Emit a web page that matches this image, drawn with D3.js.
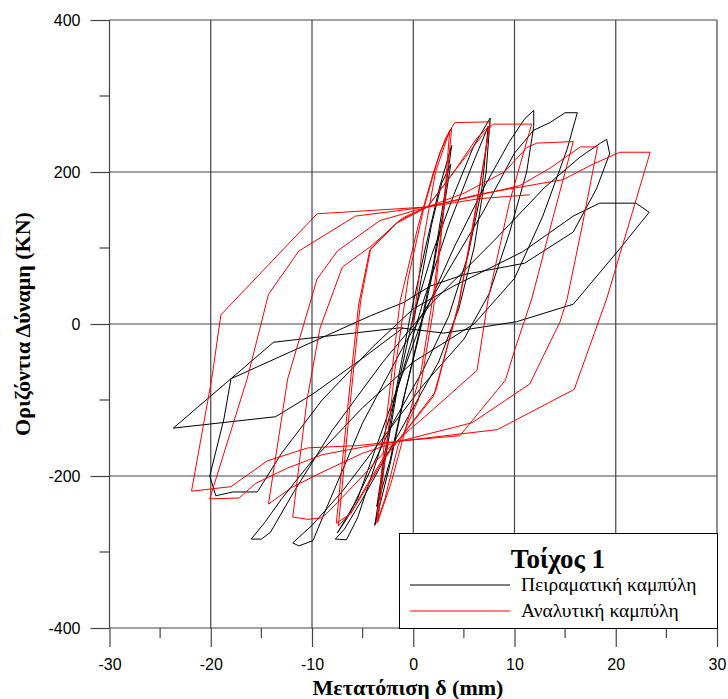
<!DOCTYPE html>
<html><head><meta charset="utf-8">
<script src="https://cdn.jsdelivr.net/npm/d3@7"></script>
<style>body{margin:0;background:#fff}svg{display:block}</style>
</head><body>
<svg id="chart" width="728" height="699"></svg>
<script>
const xTicks = [-30,-20,-10,0,10,20,30];
const xMinorTicks = [-25,-15,-5,5,15,25];
const yTicks = [-400,-200,0,200,400];
const yMinorTicks = [-300,-100,100,300];
const xTitle = "Μετατόπιση δ (mm)";
const yTitle = "Οριζόντια Δύναμη (KN)";
const legendTitle = "Τοίχος 1";
const seriesNames = ["Πειραματική καμπύλη","Αναλυτική καμπύλη"];
const seriesColors = ["#000000","#ff0000"];

// Experimental curve (black): displacement (mm), force (kN)
const experimental = [
[0,0],[0.8,60],[1.8,130],[2.8,185],[3.7,210],
[3.0,150],[1.8,60],[0.5,-20],[-1.0,-100],[-2.3,-180],[-3.6,-240],
[-2.8,-170],[-1.6,-80],[-0.3,10],[1.2,100],[2.6,180],[3.8,235],
[3.1,170],[2.0,80],[0.6,-10],[-0.8,-90],[-2.3,-185],[-3.8,-265],
[-2.8,-180],[-1.5,-80],[0.0,10],[1.8,90],[4.0,170],[6.0,235],[7.6,271],
[7.2,200],[6.0,100],[4.5,20],[2.5,-50],[0.0,-110],[-2.5,-170],[-5.0,-230],[-6.8,-270],[-7.7,-283],[-6.6,-284],
[-5.5,-255],[-3.5,-175],[-1.0,-60],[1.0,30],[3.5,130],[6.0,215],[7.4,260],
[6.8,180],[5.4,90],[3.5,10],[1.0,-60],[-2.0,-130],[-4.5,-200],[-6.5,-255],[-7.5,-275],
[-5.5,-230],[-2.0,-100],[1.0,10],[4.0,100],[7.0,180],[9.5,240],[11.0,270],[11.9,281],
[11.9,260],[11.2,200],[9.5,120],[7.5,40],[5.0,-20],[1.0,-80],[-3.0,-150],[-7.0,-220],[-10.0,-265],[-11.9,-288],[-11.3,-292],[-9.9,-285],
[-8.5,-240],[-5.0,-130],[-1.0,-30],[3.0,60],[7.0,150],[10.0,225],[11.9,255],[13.5,265],[15.0,278],[16.2,278],
[15.2,230],[12.8,142],[10.0,60],[6.0,0],[0.0,-50],[-5.0,-110],[-10.0,-180],[-13.0,-230],[-14.6,-260],[-16.0,-283],[-15.0,-283],[-14.1,-274],
[-11.8,-221],[-8.0,-140],[-3.0,-50],[2.0,30],[8.0,110],[13.0,180],[16.5,220],[18.5,238],[19.1,243],[19.4,224],
[18.1,178],[15.8,121],[11.0,80],[5.0,65],[1.7,50],[-1.0,28],[-4.2,11],[-18.0,-72],[-18.7,-125],[-20.1,-200],[-19.5,-226],[-17.8,-221],[-15.4,-221],
[-13.0,-170],[-9.0,-100],[-4.0,-30],[0.0,20],[4.0,50],[10.8,95],[15.8,142],[18.4,159],[22.0,159],[23.3,147],
[20.4,99],[15.8,26],[10.2,3],[3.0,-12],[-1.3,-5],[-13.8,-24],[-23.7,-137],[-13.6,-122],[-9.9,-92],[-5.0,-45],[-1.0,-5]
];

// Analytical curve (red): displacement (mm), force (kN)
const analytical = [
[0,0],[1.0,110],[2.2,200],[3.6,255],
[3.0,150],[2.0,40],[0.8,-60],[-0.8,-140],[-2.2,-210],[-3.5,-260],
[-2.8,-180],[-1.8,-60],[-0.5,60],[1.0,150],[2.6,225],[3.8,258],
[3.1,160],[2.0,20],[0.5,-100],[-1.5,-160],[-2.8,-230],[-3.6,-262],
[-2.6,-120],[-1.3,30],[0.5,130],[2.0,200],[3.2,245],[4.1,265],[7.6,266],
[6.2,150],[4.6,33],[2.2,-89],[-1.3,-150],[-2.9,-175],[-4.5,-210],[-6.0,-245],[-7.4,-266],
[-6.2,-100],[-5.2,30],[-4.2,99],[-1.5,135],[1.4,154],[4.0,200],[6.3,245],[7.6,262],
[6.0,140],[4.4,20],[2.0,-95],[-1.4,-152],[-3.0,-180],[-4.6,-215],[-6.2,-250],[-7.6,-262],
[-6.4,-100],[-5.4,25],[-4.3,97],[-1.6,133],[1.4,154],[4.3,205],[6.8,248],[7.9,263],[11.7,263],
[9.5,160],[7.4,33],[6.3,-61],[2.0,-112],[-1.3,-150],[-2.9,-169],[-5.0,-200],[-7.5,-235],[-9.0,-255],[-10.4,-257],[-11.9,-254],
[-10.5,-100],[-9.2,-5],[-7.0,75],[-4.2,102],[-1.0,140],[1.4,154],[5.0,172],[9.0,200],[11.2,232],[12.2,238],[15.8,240],
[13.8,140],[11.7,33],[10.0,-35],[9.1,-74],[4.6,-147],[-1.3,-154],[-5.0,-170],[-9.0,-195],[-12.0,-215],[-14.3,-237],
[-12.4,-72],[-9.5,59],[-7.5,96],[-3.3,136],[1.4,154],[6.0,168],[10.5,182],[13.5,205],[16.5,233],[18.2,233],
[16.7,130],[15.2,33],[14.5,3],[11.5,-79],[5.8,-130],[-1.3,-154],[-5.0,-162],[-9.0,-172],[-12.5,-190],[-15.6,-210],[-17.2,-229],[-20.1,-230],
[-16.4,-72],[-14.3,39],[-11.3,96],[-5.7,142],[1.4,154],[6.6,171],[10.5,180],[14.8,190],[17.7,210],[20.4,226],[23.4,226],
[19.1,33],[15.9,-86],[8.3,-139],[-1.3,-154],[-5.5,-160],[-10.4,-163],[-14.4,-180],[-18.0,-214],[-21.9,-220],
[-19.9,-72],[-19.0,12],[-9.5,145],[1.4,154],[6.6,165],[11.5,170]
];

const svg = d3.select("#chart");
const x = d3.scaleLinear().domain([-30,30]).range([109.5,717]);
const y = d3.scaleLinear().domain([-400,400]).range([628,20]);
const gridColor = "#444";
const sansFont = "'Liberation Sans', Arial, sans-serif";
const serifFont = "'Liberation Serif', 'Times New Roman', serif";

// grid lines
svg.append("g").selectAll("line").data(xTicks).join("line")
  .attr("x1",d=>x(d)).attr("x2",d=>x(d)).attr("y1",y(400)).attr("y2",y(-400))
  .attr("stroke",gridColor).attr("stroke-width",1.2);
svg.append("g").selectAll("line").data(yTicks).join("line")
  .attr("x1",x(-30)).attr("x2",x(30)).attr("y1",d=>y(d)).attr("y2",d=>y(d))
  .attr("stroke",gridColor).attr("stroke-width",1.2);

// axes
const xAxis = d3.axisBottom(x).tickValues(xTicks).tickSize(19).tickPadding(12).tickFormat(d=>String(d));
const gx = svg.append("g").attr("transform",`translate(0,${y(-400)})`).call(xAxis);
gx.select(".domain").remove();
gx.selectAll(".tick line").attr("stroke",gridColor).attr("stroke-width",1.2);
gx.selectAll("text").attr("font-family",sansFont).attr("font-size",16).attr("fill","#000");
svg.append("g").selectAll("line").data(xMinorTicks).join("line")
  .attr("x1",d=>x(d)).attr("x2",d=>x(d)).attr("y1",y(-400)).attr("y2",y(-400)+10)
  .attr("stroke",gridColor).attr("stroke-width",1.2);

const yAxis = d3.axisLeft(y).tickValues(yTicks).tickSize(19).tickPadding(10).tickFormat(d=>String(d));
const gy = svg.append("g").attr("transform",`translate(${x(-30)},0)`).call(yAxis);
gy.select(".domain").remove();
gy.selectAll(".tick line").attr("stroke",gridColor).attr("stroke-width",1.2);
gy.selectAll("text").attr("font-family",sansFont).attr("font-size",16).attr("fill","#000");
svg.append("g").selectAll("line").data(yMinorTicks).join("line")
  .attr("x1",x(-30)-10).attr("x2",x(-30)).attr("y1",d=>y(d)).attr("y2",d=>y(d))
  .attr("stroke",gridColor).attr("stroke-width",1.2);

// curves
const line = d3.line().x(d=>x(d[0])).y(d=>y(d[1]));
svg.append("path").datum(experimental).attr("d",line)
  .attr("fill","none").attr("stroke",seriesColors[0]).attr("stroke-width",1).attr("stroke-linejoin","round");
svg.append("path").datum(analytical).attr("d",line)
  .attr("fill","none").attr("stroke",seriesColors[1]).attr("stroke-width",1).attr("stroke-linejoin","round");

// axis titles
svg.append("text").attr("x",408).attr("y",695).attr("text-anchor","middle")
  .attr("font-family",serifFont).attr("font-weight","bold").attr("font-size",22)
  .text(xTitle);
svg.append("text").attr("transform","translate(30,324) rotate(-90)").attr("text-anchor","middle")
  .attr("font-family",serifFont).attr("font-weight","bold").attr("font-size",22)
  .text(yTitle);

// legend
const lg = svg.append("g");
lg.append("rect").attr("x",399.5).attr("y",533.5).attr("width",318).attr("height",95)
  .attr("fill","#fff").attr("stroke","#000").attr("stroke-width",1);
lg.append("text").attr("x",558).attr("y",568).attr("text-anchor","middle")
  .attr("font-family",serifFont).attr("font-weight","bold").attr("font-size",27)
  .text(legendTitle);
seriesNames.forEach((n,i)=>{
  const yy = 585 + i*26;
  lg.append("line").attr("x1",410).attr("x2",510).attr("y1",yy).attr("y2",yy)
    .attr("stroke",seriesColors[i]).attr("stroke-width",1);
  lg.append("text").attr("x",521).attr("y",yy+6)
    .attr("font-family",serifFont).attr("font-size",19.5)
    .text(n);
});
</script>
</body></html>
